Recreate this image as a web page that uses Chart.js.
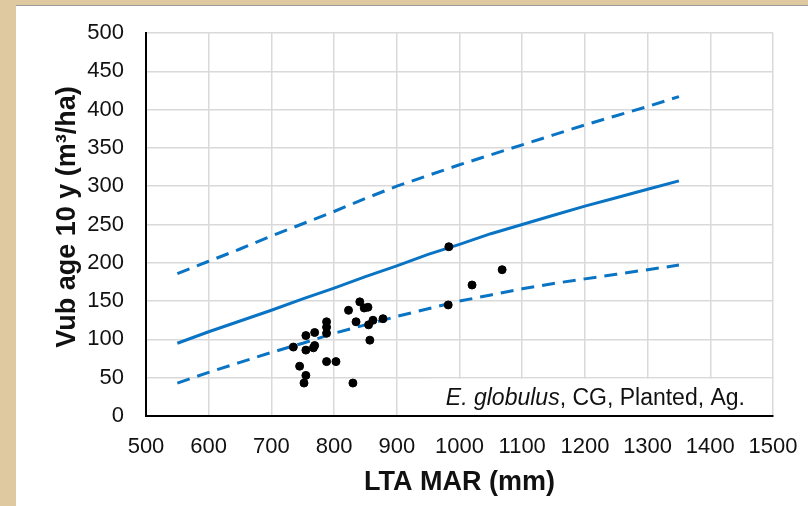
<!DOCTYPE html>
<html lang="en">
<head>
<meta charset="UTF-8">
<title>Vub age 10 y vs LTA MAR</title>
<script src="https://cdn.jsdelivr.net/npm/chart.js"></script>
<style>
    body { margin: 0; background: #dfc9a0; width: 808px; height: 506px; overflow: hidden; position: relative; }
    .painel { position: absolute; left: 16px; top: 5px; width: 792px; height: 501px; background: #fff; border-top: 1px solid #9a9a9a; }
    .painel canvas { display: block; }
</style>
</head>
<body>
<div class="painel">
    <canvas id="grafico" width="792" height="500"></canvas>
</div>

<script>
// chuva media anual (mm) das curvas
const marCurva = [550, 600, 650, 700, 750, 800, 850, 900, 950, 1000, 1050, 1100, 1150, 1200, 1250, 1300, 1350];
// volume previsto (m3/ha) - curva central e limites
const volMedio = [95, 110, 124, 138, 153, 167, 182, 196, 211, 224, 238, 250, 262, 274, 285, 296, 307];
const volSuperior = [186, 202, 218, 235, 251, 267, 284, 300, 314, 328, 341, 354, 367, 380, 392, 404, 417];
const volInferior = [43, 57, 70, 83, 95, 108, 119, 130, 140, 150, 158, 166, 173, 179, 185, 191, 197];

// parcelas observadas
const marObs = [983, 1068, 1020, 982, 841, 823, 848, 854, 835, 862, 855, 878, 857, 788, 788, 788, 769, 755, 735, 755, 767, 769, 788, 803, 745, 755, 752, 830];
const volObs = [221, 191, 171, 145, 149, 138, 141, 142, 123, 125, 119, 127, 99, 123, 116, 108, 109, 105, 90, 86, 89, 92, 71, 71, 65, 53, 43, 43];

const fonte = "Arial, 'Liberation Sans', sans-serif";
const azul = '#0a74c4';

function pares(xs, ys) {
    return xs.map((x, i) => ({ x: x, y: ys[i] }));
}

// tira o espaco extra que o chart.js reserva para os rotulos das pontas
function fixarEixo(escala, tamanho) {
    if (escala.isHorizontal()) {
        escala.height = tamanho;
    } else {
        escala.width = tamanho;
    }
    escala.paddingTop = 0;
    escala.paddingBottom = 0;
    escala.paddingLeft = 0;
    escala.paddingRight = 0;
}

// caixa branca com a legenda da especie no canto inferior direito
const rotulo = {
    id: 'rotulo',
    beforeDatasetsDraw(chart) {
        const ctx = chart.ctx;
        const area = chart.chartArea;
        const topo = chart.scales.y.getPixelForValue(50) + 1;
        ctx.save();
        ctx.fillStyle = '#fff';
        ctx.fillRect(area.right - 342, topo, 341, area.bottom - topo - 1);

        const yTexto = (topo + area.bottom) / 2 + 1;
        const resto = ', CG, Planted, Ag.';
        ctx.textBaseline = 'middle';
        ctx.fillStyle = '#111';
        ctx.font = '23px ' + fonte;
        const larguraResto = ctx.measureText(resto).width;
        const xFim = area.right - 28;
        ctx.textAlign = 'right';
        ctx.fillText(resto, xFim, yTexto);
        ctx.font = 'italic 23px ' + fonte;
        ctx.fillText('E. globulus', xFim - larguraResto, yTexto);
        ctx.restore();
    }
};

const ctx = document.getElementById('grafico').getContext('2d');
new Chart(ctx, {
    type: 'scatter',
    data: {
        datasets: [
            {
                data: pares(marObs, volObs),
                backgroundColor: '#000',
                borderColor: '#000',
                pointRadius: 4,
                order: 0
            },
            {
                data: pares(marCurva, volMedio),
                showLine: true,
                borderColor: azul,
                borderWidth: 3,
                pointRadius: 0,
                order: 1
            },
            {
                data: pares(marCurva, volSuperior),
                showLine: true,
                borderColor: azul,
                borderWidth: 3,
                borderDash: [13, 8],
                pointRadius: 0,
                order: 1
            },
            {
                data: pares(marCurva, volInferior),
                showLine: true,
                borderColor: azul,
                borderWidth: 3,
                borderDash: [13, 8],
                pointRadius: 0,
                order: 1
            }
        ]
    },
    options: {
        responsive: false,
        animation: false,
        layout: { padding: { top: 27, right: 35, left: 0, bottom: 0 } },
        plugins: {
            legend: { display: false },
            tooltip: { enabled: false }
        },
        scales: {
            x: {
                type: 'linear',
                min: 500,
                max: 1500,
                afterFit(escala) { fixarEixo(escala, 90); },
                ticks: {
                    stepSize: 100,
                    padding: 18,
                    color: '#111',
                    font: { size: 22, family: fonte },
                    callback: (v) => String(v)
                },
                grid: { color: '#d9d9d9', lineWidth: 1.5, drawTicks: false },
                border: { color: '#000', width: 2 },
                title: {
                    display: true,
                    text: 'LTA MAR (mm)',
                    color: '#111',
                    font: { size: 27, weight: 'bold', family: fonte },
                    padding: { top: 0, bottom: 7 }
                }
            },
            y: {
                min: 0,
                max: 500,
                afterFit(escala) { fixarEixo(escala, 130); },
                ticks: {
                    stepSize: 50,
                    padding: 22,
                    color: '#111',
                    font: { size: 22, family: fonte },
                    callback: (v) => String(v)
                },
                grid: { color: '#d9d9d9', lineWidth: 1.5, drawTicks: false },
                border: { color: '#000', width: 2 },
                title: {
                    display: true,
                    text: '  Vub age 10 y (m³/ha)',
                    color: '#111',
                    font: { size: 27, weight: 'bold', family: fonte },
                    padding: { top: 35, bottom: 0 }
                }
            }
        }
    },
    plugins: [rotulo]
});
</script>
</body>
</html>
